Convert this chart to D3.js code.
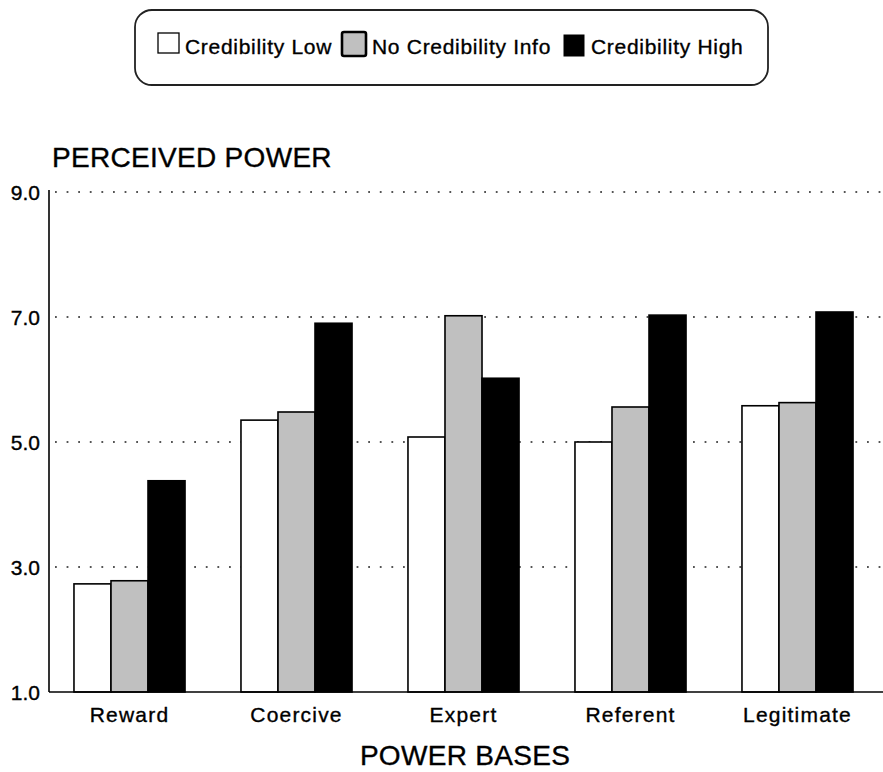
<!DOCTYPE html>
<html>
<head>
<meta charset="utf-8">
<script src="https://cdn.jsdelivr.net/npm/d3@7"></script>
<style>
  body { margin: 0; background: #fff; }
  text { font-family: "Liberation Sans", Arial, Helvetica, sans-serif; fill: #000; stroke: #000; stroke-width: 0.35px; }
</style>
</head>
<body>
<div id="chart"></div>
<script>
  // categories and series:
  var categories = ["Reward", "Coercive", "Expert", "Referent", "Legitimate"];
  var seriesNames = ["Credibility Low", "No Credibility Info", "Credibility High"];

  // values per series, in category order:
  var credLow = [2.73, 5.35, 5.08, 5.00, 5.58];
  var noCredInfo = [2.78, 5.48, 7.02, 5.56, 5.63];
  var credHigh = [4.38, 6.90, 6.02, 7.03, 7.08];

  // y-axis ticks:
  var yTicks = [1, 3, 5, 7, 9];
  var yGridTicks = [3, 5, 7, 9];

  (function () {
    'use strict';

    var width = 883, height = 772;
    var seriesValues = [credLow, noCredInfo, credHigh];
    var fills = ["#ffffff", "#c0c0c0", "#000000"];

    var svg = d3.select("#chart").append("svg")
      .attr("width", width)
      .attr("height", height);

    // plot area:
    var axisX = 49;
    var rightX = 882;
    var baseY = 692;
    var topY = 192;

    var x = d3.scaleBand()
      .domain(categories)
      .range([46, 881])
      .paddingInner(0.335)
      .paddingOuter(0.1675);

    var xInner = d3.scaleBand()
      .domain(d3.range(seriesNames.length))
      .range([0, x.bandwidth()]);

    var y = d3.scaleLinear()
      .domain([1, 9])
      .range([baseY, topY]);

    // dotted grid lines (drawn under the bars):
    svg.append("g")
      .selectAll("line")
      .data(yGridTicks)
      .join("line")
      .attr("x1", axisX + 6)
      .attr("x2", rightX)
      .attr("y1", function (d) { return y(d); })
      .attr("y2", function (d) { return y(d); })
      .attr("stroke", "#555")
      .attr("stroke-width", 2)
      .attr("stroke-dasharray", "1.8,9.8");

    // bars:
    var groups = svg.append("g")
      .selectAll("g")
      .data(categories)
      .join("g")
      .attr("transform", function (d) { return "translate(" + x(d) + ",0)"; });

    groups.selectAll("rect")
      .data(function (d, ci) {
        return seriesValues.map(function (vals, si) { return { si: si, v: vals[ci] }; });
      })
      .join("rect")
      .attr("x", function (d) { return xInner(d.si); })
      .attr("width", xInner.bandwidth())
      .attr("y", function (d) { return y(d.v); })
      .attr("height", function (d) { return baseY - y(d.v); })
      .attr("fill", function (d) { return fills[d.si]; })
      .attr("stroke", "#000")
      .attr("stroke-width", 1.6);

    // axes lines:
    svg.append("line")
      .attr("x1", axisX).attr("x2", axisX)
      .attr("y1", topY - 2).attr("y2", baseY)
      .attr("stroke", "#000").attr("stroke-width", 1.6);
    svg.append("line")
      .attr("x1", axisX).attr("x2", width)
      .attr("y1", baseY).attr("y2", baseY)
      .attr("stroke", "#000").attr("stroke-width", 1.6);

    // y tick labels:
    svg.append("g")
      .selectAll("text")
      .data(yTicks)
      .join("text")
      .attr("x", 40)
      .attr("y", function (d) { return y(d) + 8; })
      .attr("text-anchor", "end")
      .style("font-size", "21px")
      .text(function (d) { return d.toFixed(1); });

    // category labels:
    svg.append("g")
      .selectAll("text")
      .data(categories)
      .join("text")
      .attr("x", function (d) { return x(d) + x.bandwidth() / 2; })
      .attr("y", 722)
      .attr("text-anchor", "middle")
      .style("font-size", "21px")
      .style("letter-spacing", "1.2px")
      .text(function (d) { return d; });

    // axis titles:
    svg.append("text")
      .attr("x", 52)
      .attr("y", 167)
      .style("font-size", "28px")
      .style("letter-spacing", "0.3px")
      .text("PERCEIVED POWER");
    svg.append("text")
      .attr("x", 465)
      .attr("y", 765)
      .attr("text-anchor", "middle")
      .style("font-size", "28px")
      .style("letter-spacing", "0.3px")
      .text("POWER BASES");

    // legend box:
    var legendG = svg.append("g").attr("class", "legend");
    legendG.append("rect")
      .attr("x", 135).attr("y", 10)
      .attr("width", 633).attr("height", 75)
      .attr("rx", 17).attr("ry", 17)
      .attr("fill", "#fff")
      .attr("stroke", "#222")
      .attr("stroke-width", 1.8);

    var legendItems = [
      { box: [158, 33, 21, 20], sw: 1.3, tx: 185 },
      { box: [342, 32, 24, 24], sw: 2.6, tx: 372 },
      { box: [564, 35, 20, 21], sw: 1, tx: 591 }
    ];
    legendItems.forEach(function (item, i) {
      legendG.append("rect")
        .attr("x", item.box[0]).attr("y", item.box[1])
        .attr("width", item.box[2]).attr("height", item.box[3])
        .attr("rx", i === 1 ? 2 : 0)
        .attr("fill", fills[i])
        .attr("stroke", "#000")
        .attr("stroke-width", item.sw);
      legendG.append("text")
        .attr("x", item.tx)
        .attr("y", 54)
        .style("font-size", "21px")
        .style("letter-spacing", "0.7px")
        .text(seriesNames[i]);
    });
  })();
</script>
</body>
</html>
